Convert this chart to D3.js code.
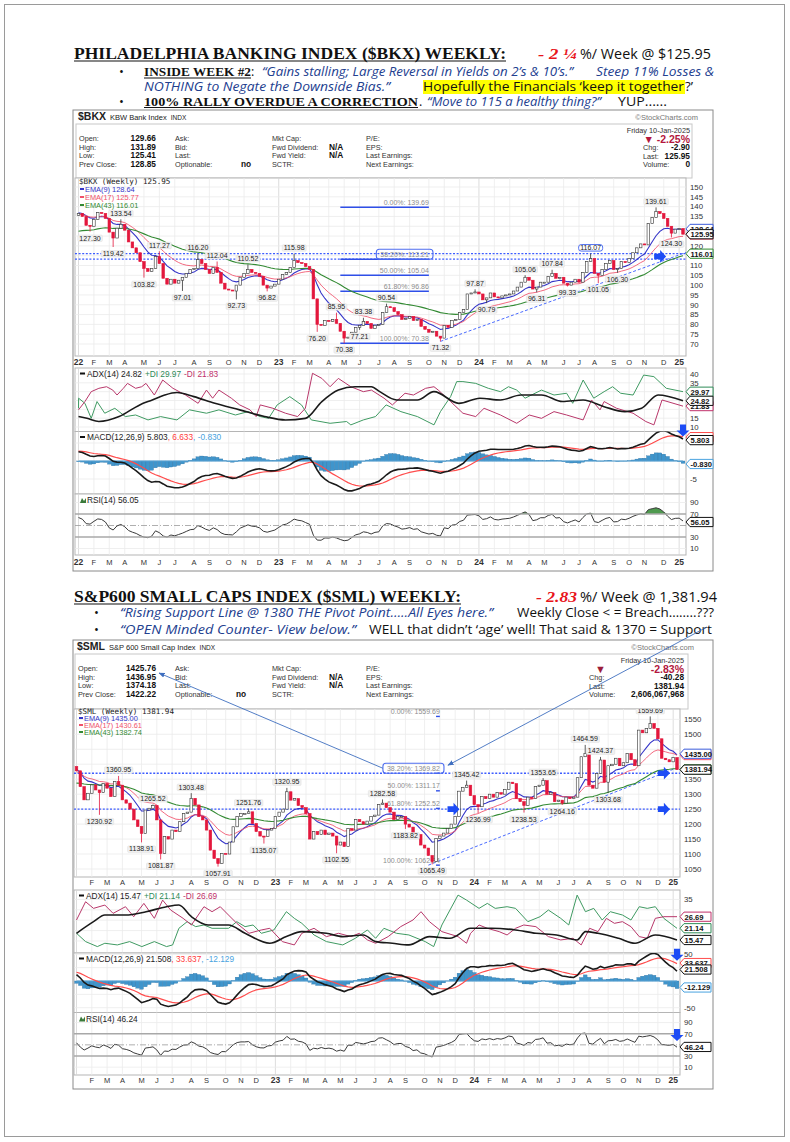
<!DOCTYPE html>
<html>
<head>
<meta charset="utf-8">
<script src="https://cdn.jsdelivr.net/npm/d3@7"></script>
<style>
  body { margin: 0; background: #fff; }
  text { font-family: "Liberation Sans", Arial, sans-serif; }
</style>
</head>
<body>
<svg id="page" width="790" height="1142"></svg>
<script>
var svg = d3.select("#page");

// ---------------- data ----------------
// weekly bars, Fri 7-Jan-2022 .. Fri 10-Jan-2025
var weeks = d3.range(158).map(function(i) { return d3.timeDay.offset(new Date(2022, 0, 7), i * 7); });

var bkxClose = [
  136.5, 135, 130.5, 130, 133.5, 137, 136.5, 134, 127, 124, 129, 131, 128, 122, 119, 116.5, 112, 108.5, 107, 108.5,
  114.5, 111, 103.5, 100.5, 103, 101, 102.5, 104, 106, 108, 108.5, 113, 111, 108, 106, 109, 106.5, 101, 98, 97.5,
  97, 100, 104, 106, 108, 106.5, 106, 104.5, 100, 98.5, 99.5, 100.5,
  103, 105.5, 106.5, 109, 112.5, 111.5, 111, 109.5, 108, 93, 80, 79.5, 82, 81.5, 82.5, 80.5, 76.5, 73,
  73.5, 76, 78.5, 79.5, 81.5, 80.5, 78, 79.5, 80, 86, 89, 88.5, 86.5, 85, 82.5, 83, 84, 82, 82.5, 79,
  77.5, 76, 76.5, 74, 73, 79.5, 78.5, 82, 82.5, 86, 87.5, 95.5, 96, 96.5,
  95.5, 92.5, 93.5, 96, 94, 93.5, 94.5, 95, 95.5, 97, 99, 101.5, 104, 102.5, 98, 99, 101.5, 101.5, 104.5, 106,
  103.5, 104, 101, 100, 101.5, 103, 101.5, 106.5, 112, 113.5, 106, 105, 108, 111, 112.5, 108, 108.5, 112, 111.5, 113.5,
  116.5, 119, 121, 120.5, 131.5, 134.5, 137.5, 136.5, 134, 130, 126.5, 128.5, 128.85, 125.95
];
var bkxFirstOpen = 135.5;
var bkxEmaSeed = [137, 136, 127];        // EMA(9), EMA(17), EMA(43) before week 0
var bkxMacdSeed = [134.6, 132, 2.8];     // EMA(12), EMA(26), signal before week 0
var bkxRsiSeed = [1.6, 0.95];            // average gain, average loss before week 0
var bkxHighs = [[11, 133.54], [21, 117.27], [31, 116.20], [36, 112.04], [44, 110.52], [56, 115.98], [67, 85.95],
  [74, 83.38], [80, 90.54], [103, 97.87], [116, 105.06], [123, 107.84], [133, 116.07], [150, 139.61]];
var bkxLows = [[3, 127.30], [9, 119.42], [17, 103.82], [27, 97.01], [41, 92.73], [49, 96.82], [62, 76.20],
  [69, 70.38], [73, 77.21], [94, 71.32], [106, 90.79], [119, 96.31], [127, 99.33], [135, 101.05], [140, 106.30], [154, 124.30]];
var bkxFib = [["0.00%", 139.69], ["38.20%", 113.21], ["50.00%", 105.04], ["61.80%", 96.86], ["100.00%", 70.38]];
var bkxFibWeeks = [68, 91];
var bkxSupport = [116.07, 113.21];
var bkxTrend = [[94, 71.32], [158, 116.8]];
var bkxArrows = [[149.5, 114.6]];
// ADX(14) panel, points as [months since Jan-2022, value]
var bkxAdx = [[0,15.9],[0.69,14.9],[1.43,13.1],[2.67,15.9],[3.91,22.5],[4.65,25.3],[5.39,28.1],[6.13,29.5],[7.12,27.2],
  [8.36,23.4],[9.84,19.7],[11.33,15.9],[12.56,14.0],[13.8,14.9],[14.79,24.4],[15.78,30.9],[16.77,32.8],[17.75,32.8],
  [18.25,30.0],[19.24,25.3],[20.47,25.3],[21.46,30.0],[22.95,23.4],[24.18,26.3],[25.42,25.3],[26.66,28.1],[27.89,28.1],
  [29.13,24.4],[30.37,25.3],[31.6,21.5],[32.84,18.7],[33.83,20.6],[34.82,28.1],[36.3,24.8]];
var bkxPlusDi = [[0,20.6],[0.2,26.3],[0.57,23.4],[0.94,14.9],[1.31,24.4],[1.81,17.8],[2.42,20.6],[3.04,15.9],[3.66,16.8],
  [4.4,14.0],[5.14,15.9],[6.13,14.0],[6.87,19.7],[7.86,17.8],[8.61,19.7],[9.59,16.8],[10.34,18.7],[11.08,15.9],[11.57,14.9],
  [12.07,22.5],[12.81,27.2],[13.55,22.5],[14.17,14.0],[15.28,12.1],[16.27,13.1],[16.52,11.2],[17.26,14.0],[18.0,15.9],
  [18.62,22.5],[19.49,18.7],[20.47,15.9],[21.46,11.2],[21.84,18.7],[22.45,27.2],[22.82,35.7],[23.19,35.7],[23.94,34.7],
  [24.68,31.9],[25.42,30.0],[25.92,32.8],[26.41,30.9],[26.9,26.3],[27.89,30.9],[28.63,28.1],[29.38,29.1],[29.75,23.4],
  [30.37,36.6],[30.99,26.3],[31.6,30.0],[32.1,32.8],[32.59,29.1],[33.33,28.1],[33.95,39.4],[34.57,38.5],[35.31,31.9],[36.3,30.0]];
var bkxMinusDi = [[0,19.7],[0.57,24.4],[0.94,30.0],[1.43,31.9],[1.93,32.8],[2.3,30.9],[2.55,28.1],[2.92,31.9],[3.17,34.7],
  [3.66,31.9],[4.03,32.8],[4.28,34.7],[4.77,28.1],[5.27,36.6],[5.89,31.9],[6.63,28.1],[7.37,23.4],[7.86,30.9],[8.23,26.3],
  [8.61,30.9],[9.35,26.3],[9.84,22.5],[10.46,19.7],[10.83,15.9],[11.08,22.5],[11.82,20.6],[12.56,17.8],[13.3,15.9],
  [13.8,20.6],[14.24,40.4],[14.79,37.5],[15.28,32.8],[15.78,37.5],[16.52,32.8],[17.26,30.0],[17.75,30.9],[18.5,26.3],
  [18.99,22.5],[19.73,29.1],[20.23,28.1],[20.97,31.9],[21.46,32.8],[21.71,30.9],[22.45,24.4],[23.19,17.8],[23.94,15.9],
  [24.43,20.6],[25.42,16.8],[26.41,12.1],[27.15,16.8],[27.89,14.9],[28.63,18.7],[29.38,16.8],[30.37,14.0],[30.86,25.3],
  [31.36,19.7],[31.6,24.4],[32.34,20.6],[33.33,17.8],[34.08,13.1],[34.57,11.2],[35.06,25.3],[36.3,21.8]];

var smlClose = [
  1378, 1325, 1281, 1303, 1331, 1314, 1305, 1336, 1320, 1292, 1342, 1330, 1281, 1270, 1250, 1214, 1192, 1169, 1247, 1253,
  1262, 1214, 1102, 1158, 1150, 1180, 1175, 1208, 1236, 1240, 1286, 1264, 1225, 1214, 1180, 1113, 1085, 1068, 1102, 1100,
  1140, 1191, 1225, 1236, 1236, 1241, 1202, 1175, 1160, 1158, 1180, 1185,
  1225, 1240, 1250, 1308, 1280, 1285, 1262, 1255, 1235, 1150, 1175, 1165, 1180, 1165, 1170, 1160, 1130, 1140,
  1125, 1185, 1180, 1215, 1208, 1200, 1210, 1225, 1230, 1265, 1270, 1255, 1240, 1215, 1225, 1225, 1200, 1190, 1160, 1165,
  1130, 1120, 1095, 1075, 1152, 1160, 1170, 1185, 1200, 1225, 1310, 1322, 1330, 1295,
  1265, 1258, 1292, 1285, 1300, 1290, 1305, 1300, 1315, 1340, 1335, 1285, 1275, 1262, 1290, 1285, 1325, 1330, 1345, 1300,
  1305, 1275, 1280, 1270, 1290, 1285, 1290, 1355, 1425, 1436, 1330, 1320, 1369, 1414, 1340, 1395, 1400, 1420, 1395, 1405,
  1436, 1415, 1395, 1514, 1505, 1520, 1536, 1520, 1485, 1420, 1415, 1408, 1422.22, 1381.94
];
var smlFirstOpen = 1392;
var smlEmaSeed = [1385, 1375, 1335];
var smlMacdSeed = [1395, 1380.6, 17.4];
var smlRsiSeed = [14, 11];
var smlHighs = [[11, 1360.95], [20, 1265.52], [30, 1303.48], [45, 1251.76], [55, 1320.95], [80, 1282.58], [102, 1345.42],
  [122, 1353.65], [133, 1464.59], [137, 1424.37], [150, 1559.69]];
var smlLows = [[6, 1230.92], [17, 1138.91], [22, 1081.87], [37, 1057.91], [49, 1135.07], [68, 1102.55], [86, 1183.82],
  [93, 1065.49], [105, 1236.99], [117, 1238.53], [127, 1264.16], [139, 1303.68]];
var smlFib = [["0.00%", 1559.69], ["38.20%", 1369.82], ["50.00%", 1311.17], ["61.80%", 1252.52], ["100.00%", 1062.84]];
var smlFibWeeks = [94, 95];
var smlSupport = [1369.82, 1250];
var smlTrend = [[92, 1062.84], [157, 1388]];
var smlArrows = [[97, 1250], [152, 1250], [152, 1370]];
var smlAdx = [[0,18.7],[1.22,24.3],[1.96,27.5],[3.19,27.5],[4.43,29.1],[5.66,31.5],[6.4,32.3],[7.14,26.7],[8.13,22.7],
  [9.36,22.7],[10.35,18.7],[11.83,13.9],[12.81,17.1],[13.8,19.5],[15.28,18.7],[16.27,17.1],[17.5,17.9],[18.24,14.7],
  [19.23,13.9],[20.21,13.1],[21.45,17.1],[22.68,16.3],[23.91,21.1],[25.15,21.1],[26.63,20.3],[27.86,18.7],[29.09,17.9],
  [30.33,15.5],[30.82,19.5],[31.56,18.7],[32.8,16.3],[33.78,13.9],[35.01,17.9],[36.3,15.5]];
var smlPlusDi = [[0,18.7],[0.73,14.7],[1.47,12.3],[1.96,13.9],[2.7,13.1],[3.44,14.7],[4.18,12.3],[4.92,14.7],[5.66,12.3],
  [6.03,13.1],[6.4,21.1],[6.89,24.3],[7.39,21.9],[7.88,22.7],[8.37,21.1],[9.36,21.1],[9.85,24.3],[10.35,21.9],[10.84,22.7],
  [11.33,18.7],[12.07,20.3],[12.81,29.1],[13.31,25.9],[13.8,23.5],[14.54,17.9],[15.28,14.7],[16.27,13.1],[17.01,16.3],
  [17.75,20.3],[18.24,16.3],[18.73,21.1],[19.47,18.7],[20.21,17.9],[21.2,14.7],[21.7,12.3],[22.19,22.7],[23.17,37.1],
  [23.67,34.7],[24.41,30.7],[24.9,33.1],[25.39,30.7],[26.13,31.5],[26.63,30.7],[27.37,24.3],[28.11,26.7],[28.6,29.9],
  [29.34,25.9],[29.83,22.7],[30.33,37.1],[30.82,29.1],[31.31,30.7],[31.81,25.1],[32.3,29.1],[33.04,27.5],[33.54,25.1],
  [34.03,31.5],[34.52,30.7],[35.01,31.5],[35.51,25.9],[36.3,21.1]];
var smlMinusDi = [[0,25.1],[0.73,33.9],[1.22,30.7],[1.96,32.3],[2.45,28.3],[3.19,31.5],[3.69,26.7],[4.3,33.1],[4.92,25.9],
  [5.42,34.7],[5.91,29.9],[6.65,25.9],[7.14,22.7],[7.88,31.5],[8.37,29.1],[8.87,31.5],[9.36,27.5],[9.85,23.5],[10.59,18.7],
  [11.33,20.3],[11.83,21.1],[12.57,14.7],[13.31,13.1],[13.8,18.7],[14.54,21.1],[15.28,17.1],[16.02,18.7],[16.76,17.1],
  [17.25,18.7],[17.75,15.5],[18.24,13.9],[18.98,17.1],[19.72,21.9],[20.46,25.1],[20.95,29.1],[21.45,24.3],[22.19,19.5],
  [23.17,17.1],[23.67,13.9],[23.91,18.7],[24.41,22.7],[24.9,21.1],[25.64,19.5],[26.13,17.9],[26.63,21.1],[27.12,22.7],
  [27.86,21.9],[28.6,17.1],[29.34,15.5],[30.08,16.3],[30.57,13.1],[31.07,21.1],[31.56,19.5],[32.06,25.9],[32.55,23.5],
  [33.04,24.3],[33.54,21.9],[34.03,17.1],[34.52,16.3],[35.01,25.9],[35.51,26.7],[36.3,26.7]];

// ---------------- helpers ----------------
var RED = "#e3173c", BLUE = "#2f4fe8", ARROW = "#1d4cf5";

function ema(values, n, seed) {
  var k = 2 / (n + 1), prev = seed;
  return values.map(function(v) { prev = v * k + prev * (1 - k); return prev; });
}
function rsiCalc(values, first, seed) {
  var g = seed[0], l = seed[1], last = first;
  return values.map(function(v) {
    var ch = v - last; last = v;
    g = (g * 13 + Math.max(ch, 0)) / 14;
    l = (l * 13 + Math.max(-ch, 0)) / 14;
    return 100 - 100 / (1 + g / l);
  });
}
function monthDate(m) {
  var f = Math.floor(m);
  var a = d3.timeMonth.offset(new Date(2022, 0, 1), f), b = d3.timeMonth.offset(a, 1);
  return new Date(+a + (m - f) * (b - a));
}

var defs = svg.append("defs");
defs.append("marker").attr("id", "ah").attr("viewBox", "0 0 10 10").attr("refX", 9).attr("refY", 5)
  .attr("markerWidth", 7).attr("markerHeight", 7).attr("orient", "auto")
  .append("path").attr("d", "M0,1L10,5L0,9z").attr("fill", "#3f6fc0");

// page frame
svg.append("rect").attr("x", 4.5).attr("y", 4.5).attr("width", 780).attr("height", 1132)
  .attr("fill", "none").attr("stroke", "#9a9a9a");

// ---------------- commentary text ----------------
function seg(x, y, w, str, st) {
  var t = svg.append("text").attr("x", x).attr("y", y).text(str)
    .attr("font-size", st.size).attr("fill", st.fill || "#111");
  if (st.family) t.style("font-family", st.family);
  if (st.weight) t.attr("font-weight", st.weight);
  if (st.italic) t.attr("font-style", "italic");
  if (w) t.attr("textLength", w).attr("lengthAdjust", "spacingAndGlyphs");
  if (st.underline) svg.append("line").attr("x1", x).attr("x2", x + w).attr("y1", y + 2).attr("y2", y + 2)
    .attr("stroke", "#111").attr("stroke-width", 1.1);
  return t;
}
var serif = "'Liberation Serif', 'DejaVu Serif', serif", sans = "'Open Sans', 'Noto Sans', sans-serif";
var titleS = { family: serif, weight: "bold", size: 17, underline: true };
var redS = { family: serif, weight: "bold", italic: true, size: 15, fill: "#e8141b" };
var plainS = { family: sans, size: 14 };
var capsS = { family: serif, weight: "bold", size: 13, underline: true };
var navyS = { family: sans, italic: true, size: 12.5, fill: "#22408f" };
var bodyS = { family: sans, size: 12.5 };
var dotS = { family: sans, size: 13 };

seg(74, 59, 432, "PHILADELPHIA BANKING INDEX ($BKX) WEEKLY:", titleS);
seg(538, 59, 39, "- 2 \u00bc", redS);
seg(580, 59, 131, "%/ Week @ $125.95", plainS);
seg(119, 76, 0, "\u2022", dotS);
seg(144, 76, 107, "INSIDE WEEK #2", capsS);
seg(251, 76, 0, ":", bodyS);
seg(262, 76, 311, "\u201cGains stalling; Large Reversal in Yields on 2\u2019s & 10\u2019s.\u201d", navyS);
seg(596, 76, 118, "Steep 11% Losses &", navyS);
seg(144, 90.5, 246, "NOTHING to Negate the Downside Bias.\u201d", navyS);
svg.append("rect").attr("x", 423).attr("y", 80).attr("width", 262).attr("height", 14).attr("fill", "#ffff00");
seg(423, 90.5, 261, "Hopefully the Financials \u2018keep it together", bodyS);
seg(685, 90.5, 8, "?\u2019", bodyS);
seg(119, 105.5, 0, "\u2022", dotS);
seg(144, 105.5, 274, "100% RALLY OVERDUE A CORRECTION", capsS);
seg(419, 105.5, 0, ".", bodyS);
seg(427, 105.5, 174, "\u201cMove to 115 a healthy thing?\u201d", navyS);
seg(618, 105.5, 49, "YUP......", bodyS);

seg(74, 602, 387, "S&P600 SMALL CAPS INDEX ($SML) WEEKLY:", titleS);
seg(536, 602, 41, "- 2.83", redS);
seg(580, 602, 137, "%/ Week @ 1,381.94", plainS);
seg(94, 617, 0, "\u2022", dotS);
seg(120, 617, 373, "\u201cRising Support Line @ 1380 THE Pivot Point\u2026..All Eyes here.\u201d", navyS);
seg(517, 617, 197, "Weekly Close < = Breach\u2026\u2026..???", bodyS);
seg(94, 634, 0, "\u2022", dotS);
seg(120, 634, 236, "\u201cOPEN Minded Counter- View below.\u201d", navyS);
seg(369, 634, 343, "WELL that didn\u2019t \u2018age\u2019 well! That said & 1370 = Support", bodyS);

// ---------------- chart drawing ----------------
function drawChart(L, D) {
  var g = svg.append("g");
  var id = D.id;
  var x = d3.scaleLinear().domain([0, weeks.length - 1]).range([L.x0, L.x1]);
  var xt = d3.scaleTime().domain([weeks[0], weeks[weeks.length - 1]]).range([L.x0, L.x1]);
  var xm = function(m) { return Math.min(L.x1, Math.max(L.x0, xt(monthDate(m)))); };

  g.append("rect").attr("x", L.box[0]).attr("y", L.box[1]).attr("width", L.box[2] - L.box[0])
    .attr("height", L.box[3] - L.box[1]).attr("fill", "#fff").attr("stroke", "#8a8a8a");

  // header + info box
  var h = g.append("text").attr("x", L.plotL + 3).attr("y", L.header).attr("font-size", 7.5).attr("fill", "#222");
  h.append("tspan").attr("font-weight", "bold").attr("font-size", 10.5).text(D.symbol);
  h.append("tspan").attr("dx", 4).text(D.name);
  h.append("tspan").attr("dx", 4).attr("font-size", 6.5).text("INDX");
  g.append("text").attr("x", L.infoR + 6).attr("y", L.header).attr("text-anchor", "end")
    .attr("font-size", 7.5).attr("fill", "#777").text("\u00a9StockCharts.com");
  g.append("rect").attr("x", L.infoL).attr("y", L.info[0]).attr("width", L.infoR - L.infoL)
    .attr("height", L.info[1] - L.info[0]).attr("fill", "#fff").attr("stroke", "#c8c8c8");

  var rowY = [17, 25.5, 34, 42.5].map(function(d) { return L.info[0] + d; });
  var lab = function(xx, yy, s, anchor) {
    return g.append("text").attr("x", xx).attr("y", yy).attr("font-size", 7.3).attr("fill", "#333")
      .attr("text-anchor", anchor || "start").text(s);
  };
  var val = function(xx, yy, s, anchor) {
    return g.append("text").attr("x", xx).attr("y", yy).attr("font-size", 8.3).attr("font-weight", "bold")
      .attr("fill", "#111").attr("text-anchor", anchor || "start").text(s);
  };
  ["Open:", "High:", "Low:", "Prev Close:"].forEach(function(s, i) {
    lab(L.plotL + 4, rowY[i], s); val(156, rowY[i], D.ohlc[i], "end");
  });
  ["Ask:", "Bid:", "Last:", "Optionable:"].forEach(function(s, i) { lab(175, rowY[i], s); });
  val(L.noX, rowY[3], "no");
  ["Mkt Cap:", "Fwd Dividend:", "Fwd Yield:", "SCTR:"].forEach(function(s, i) { lab(272, rowY[i], s); });
  val(329, rowY[1], "N/A"); val(329, rowY[2], "N/A");
  ["P/E:", "EPS:", "Last Earnings:", "Next Earnings:"].forEach(function(s, i) { lab(366, rowY[i], s); });
  lab(L.rightX, L.info[0] + 9, "Friday  10-Jan-2025", "end");
  if (L.triX) {
    g.append("text").attr("x", L.triX).attr("y", rowY[0] + 1.5).attr("font-size", 11).attr("fill", "#9c1d3a").text("\u25bc");
    g.append("text").attr("x", L.rightX).attr("y", rowY[0] + 1.5).attr("text-anchor", "end").attr("font-size", 10.5)
      .attr("font-weight", "bold").attr("fill", "#b3173d").text(D.pct);
  } else {
    g.append("text").attr("x", L.rightX).attr("y", rowY[0] + 1.5).attr("text-anchor", "end").attr("font-size", 10.5)
      .attr("font-weight", "bold").attr("fill", "#b3173d").text("\u25bc " + D.pct);
  }
  [["Chg:", D.chg], ["Last:", D.last], ["Volume:", D.volume]].forEach(function(r, i) {
    lab(L.rightLblX, rowY[i + 1] + 0.5, r[0]); val(L.rightX, rowY[i + 1] + 0.5, r[1], "end");
  });

  // month ticks at the first bar of each month
  var months = weeks.map(function(d, i) { return { d: d, i: i }; }).filter(function(o) {
    return o.i === 0 || o.d.getMonth() !== weeks[o.i - 1].getMonth();
  });
  var mLabel = function(o) { return o.d.getMonth() === 0 ? String(o.d.getFullYear()).slice(2) : "JFMAMJJASOND"[o.d.getMonth()]; };
  [L.monthTop, L.monthBottom].forEach(function(yy) {
    g.selectAll(null).data(months.filter(function(o) { return !(L.skipFirst && o.i === 0); })).enter().append("text")
      .attr("x", function(o) { return x(o.i); }).attr("y", yy).attr("text-anchor", "middle")
      .attr("font-size", function(o) { return o.d.getMonth() === 0 ? 8.5 : 7.5; })
      .attr("font-weight", function(o) { return o.d.getMonth() === 0 ? "bold" : "normal"; })
      .attr("fill", "#333").text(mLabel);
  });

  function tagClear(key, scale) {
    var ys = D.tags.filter(function(t) { return t[0] === key; }).map(function(t) { return scale(t[1]); });
    return function(v) { var p = scale(v); return ys.every(function(q) { return Math.abs(q - p) > 7.5; }); };
  }

  function panel(name, yr, scale, ticks) {
    var pg = g.append("g");
    pg.append("rect").attr("x", L.plotL).attr("y", yr[0]).attr("width", L.plotR - L.plotL)
      .attr("height", yr[1] - yr[0]).attr("fill", "#fff").attr("stroke", "#b5b5b5");
    pg.selectAll(null).data(months).enter().append("line")
      .attr("x1", function(o) { return x(o.i); }).attr("x2", function(o) { return x(o.i); })
      .attr("y1", yr[0]).attr("y2", yr[1])
      .attr("stroke", function(o) { return o.d.getMonth() === 0 ? "#d4d4d4" : "#ebebeb"; }).attr("stroke-width", 0.8);
    var inside = ticks.filter(function(t) { var p = scale(t); return p > yr[0] + 1 && p < yr[1] - 1; });
    pg.selectAll(null).data(inside).enter().append("line")
      .attr("x1", L.plotL).attr("x2", L.plotR).attr("y1", scale).attr("y2", scale)
      .attr("stroke", "#ebebeb").attr("stroke-width", 0.8);
    pg.selectAll(null).data(inside.filter(tagClear(name, scale))).enter().append("text")
      .attr("x", L.axisX).attr("y", function(t) { return scale(t) + 2.8; })
      .attr("font-size", 7.8).attr("fill", "#333").text(function(t) { return t; });
    defs.append("clipPath").attr("id", id + name).append("rect")
      .attr("x", L.plotL).attr("y", yr[0]).attr("width", L.plotR - L.plotL).attr("height", yr[1] - yr[0]);
    var inner = pg.append("g").attr("clip-path", "url(#" + id + name + ")");
    return { g: pg, inner: inner };
  }

  // value tag on the right axis; hidden tags (covered by the next one) keep only their outline
  function tag(value, txt, color, scale, hidden) {
    var yy = scale(value), x0 = L.plotR, w = L.tagW;
    g.append("path").attr("d", "M" + x0 + "," + yy + "L" + (x0 + 4) + "," + (yy - 4.6) + "L" + (x0 + w) + "," + (yy - 4.6) +
      "L" + (x0 + w) + "," + (yy + 4.6) + "L" + (x0 + 4) + "," + (yy + 4.6) + "Z")
      .attr("fill", "#fff").attr("stroke", color).attr("stroke-width", 1);
    if (!hidden) g.append("text").attr("x", x0 + 4.5).attr("y", yy + 2.8).attr("font-size", 7.6).attr("font-weight", "bold")
      .attr("fill", "#111").text(txt);
  }

  function labelBox(parent, xx, yy, txt, stroke) {
    var t = parent.append("text").attr("x", xx).attr("y", yy).attr("text-anchor", "middle")
      .attr("font-size", 7).attr("fill", "#222").text(txt);
    var b = t.node().getBBox();
    parent.insert("rect", function() { return t.node(); })
      .attr("x", b.x - 1.5).attr("y", b.y + 0.5).attr("width", b.width + 3).attr("height", b.height - 0.5)
      .attr("rx", stroke ? 2.5 : 1).attr("fill", stroke ? "#fff" : "#f1f1f1")
      .attr("stroke", stroke || "#dddddd").attr("stroke-width", stroke ? 1 : 0.5);
    return t;
  }

  // ---- price panel ----
  var py = d3.scaleLinear().domain(L.priceDomain).range(L.priceRange);
  var P = panel("p", L.price, py, L.priceTicks);
  var opens = [D.firstOpen].concat(D.close.slice(0, -1));
  var hi = new Map(D.highs), lo = new Map(D.lows);

  D.support.forEach(function(v) {
    P.inner.append("line").attr("x1", L.plotL).attr("x2", L.plotR).attr("y1", py(v)).attr("y2", py(v))
      .attr("stroke", "#3d5cff").attr("stroke-width", 1.3).attr("stroke-dasharray", "2,1.6");
  });
  P.inner.append("line").attr("x1", x(D.trend[0][0])).attr("y1", py(D.trend[0][1]))
    .attr("x2", x(D.trend[1][0])).attr("y2", py(D.trend[1][1]))
    .attr("stroke", "#4a6bff").attr("stroke-width", 1).attr("stroke-dasharray", "3,2");

  var fibBox = null;
  D.fib.forEach(function(f) {
    var yy = py(f[1]);
    P.inner.append("line").attr("x1", x(D.fibWeeks[0])).attr("x2", x(D.fibWeeks[1])).attr("y1", yy).attr("y2", yy)
      .attr("stroke", BLUE).attr("stroke-width", 1.4);
    var t = P.inner.append("text").attr("x", x(D.fibWeeks[1])).attr("y", yy - 2.5).attr("text-anchor", "end")
      .attr("font-size", 7).attr("fill", "#8d8d8d").text(f[0] + ": " + d3.format(".2f")(f[1]));
    if (f[0] === "38.20%") {
      var b = t.node().getBBox();
      fibBox = { x: b.x - 4, y: b.y - 1.5, w: b.width + 8, h: b.height + 3 };
      P.inner.append("rect").attr("x", fibBox.x).attr("y", fibBox.y).attr("width", fibBox.w).attr("height", fibBox.h)
        .attr("rx", 3).attr("fill", "none").attr("stroke", "#4f6ef0").attr("stroke-width", 1.1);
    }
  });

  var emaColors = ["#3535c8", "#f0506a", "#338a33"];
  [9, 17, 43].forEach(function(n, k) {
    var e = ema(D.close, n, D.emaSeed[k]);
    P.inner.append("path").datum(e)
      .attr("d", d3.line().x(function(d, i) { return x(i); }).y(function(d) { return py(d); }))
      .attr("fill", "none").attr("stroke", emaColors[k]).attr("stroke-width", k === 1 ? 1 : 1.1)
      .attr("stroke-opacity", k === 1 ? 0.85 : 1);
  });

  P.inner.selectAll(null).data(D.close).enter().append("line")
    .attr("x1", function(d, i) { return x(i); }).attr("x2", function(d, i) { return x(i); })
    .attr("y1", function(d, i) { return py(hi.has(i) ? hi.get(i) : Math.max(d, opens[i])); })
    .attr("y2", function(d, i) { return py(lo.has(i) ? lo.get(i) : Math.min(d, opens[i])); })
    .attr("stroke", function(d, i) { return d < opens[i] ? RED : "#333"; }).attr("stroke-width", 0.8);
  P.inner.selectAll(null).data(D.close).enter().append("rect")
    .attr("x", function(d, i) { return x(i) - 1.3; }).attr("width", 2.6)
    .attr("y", function(d, i) { return py(Math.max(d, opens[i])); })
    .attr("height", function(d, i) { return Math.max(1, Math.abs(py(d) - py(opens[i]))); })
    .attr("fill", function(d, i) { return d < opens[i] ? RED : "#fff"; })
    .attr("stroke", function(d, i) { return d < opens[i] ? RED : "#333"; }).attr("stroke-width", 0.6);

  D.highs.forEach(function(p) {
    labelBox(P.inner, x(p[0]), py(p[1]) - 3.5, d3.format(".2f")(p[1]), p[0] === D.boxedHigh ? "#4f6ef0" : null);
  });
  D.lows.forEach(function(p) { labelBox(P.inner, x(p[0]), py(p[1]) + 9, d3.format(".2f")(p[1])); });

  D.arrows.forEach(function(a) {
    var ax = x(a[0]), ay = py(a[1]);
    P.inner.append("path").attr("d", "M" + ax + "," + (ay - 2.8) + "h6v-3.6l6,6.4l-6,6.4v-3.6h-6z").attr("fill", ARROW);
  });

  // legend
  var lg = P.g.append("g");
  lg.append("text").attr("x", L.plotL + 4).attr("y", L.legend[0]).attr("font-size", 7.6)
    .style("font-family", "'DejaVu Sans Mono', 'Liberation Mono', monospace").attr("fill", "#222").text(D.legend[0]);
  [1, 2, 3].forEach(function(k) {
    var yy = L.legend[0] + k * L.legend[1];
    lg.append("line").attr("x1", L.plotL + 5).attr("x2", L.plotL + 9).attr("y1", yy - 2.5).attr("y2", yy - 2.5)
      .attr("stroke", emaColors[k - 1]).attr("stroke-width", 2);
    lg.append("text").attr("x", L.plotL + 10).attr("y", yy).attr("font-size", 7.4).attr("fill", emaColors[k - 1]).text(D.legend[k]);
  });

  // ---- ADX ----
  var ay = d3.scaleLinear().domain(L.adxDomain).range(L.adxRange);
  var A = panel("a", L.adx, ay, L.adxTicks);
  var mline = d3.line().x(function(d) { return xm(d[0]); }).y(function(d) { return ay(d[1]); });
  A.inner.append("path").datum(D.plusDi).attr("d", mline).attr("fill", "none").attr("stroke", "#3f9a62").attr("stroke-width", 1);
  A.inner.append("path").datum(D.minusDi).attr("d", mline).attr("fill", "none").attr("stroke", "#b8376a").attr("stroke-width", 1);
  A.inner.append("path").datum(D.adx).attr("d", mline.curve(d3.curveMonotoneX)).attr("fill", "none")
    .attr("stroke", "#1a1a1a").attr("stroke-width", 1.6);
  var at = A.g.append("text").attr("x", L.plotL + 12).attr("y", L.adx[0] + 8.5).attr("font-size", 8.3);
  A.g.append("line").attr("x1", L.plotL + 5).attr("x2", L.plotL + 10).attr("y1", L.adx[0] + 5.5).attr("y2", L.adx[0] + 5.5)
    .attr("stroke", "#111").attr("stroke-width", 2);
  at.append("tspan").attr("fill", "#222").text(D.adxLabel[0]);
  at.append("tspan").attr("fill", "#2e8b57").attr("dx", 3).text(D.adxLabel[1]);
  at.append("tspan").attr("fill", "#c0306a").attr("dx", 3).text(D.adxLabel[2]);

  // ---- MACD ----
  var e12 = ema(D.close, 12, D.macdSeed[0]), e26 = ema(D.close, 26, D.macdSeed[1]);
  var macd = e12.map(function(v, i) { return v - e26[i]; });
  var signal = ema(macd, 9, D.macdSeed[2]);
  var hist = macd.map(function(v, i) { return v - signal[i]; });
  var my = d3.scaleLinear().domain(L.macdDomain).range(L.macdRange);
  var M = panel("m", L.macd, my, L.macdTicks);
  M.inner.selectAll(null).data(hist).enter().append("rect")
    .attr("x", function(d, i) { return x(i) - 1.9; }).attr("width", 3.8)
    .attr("y", function(d) { return Math.min(my(d), my(0)); })
    .attr("height", function(d) { return Math.abs(my(d) - my(0)); })
    .attr("fill", "#3f95cc").attr("stroke", "#2b6f9f").attr("stroke-width", 0.3);
  M.inner.append("line").attr("x1", L.x0).attr("x2", L.x1).attr("y1", my(0)).attr("y2", my(0))
    .attr("stroke", "#5aa6d8").attr("stroke-width", 1);
  var wl = d3.line().x(function(d, i) { return x(i); });
  M.inner.append("path").datum(signal).attr("d", wl.y(function(d) { return my(d); }))
    .attr("fill", "none").attr("stroke", "#ff4d4d").attr("stroke-width", 1.2);
  M.inner.append("path").datum(macd).attr("d", wl.y(function(d) { return my(d); }))
    .attr("fill", "none").attr("stroke", "#1a1a1a").attr("stroke-width", 1.6);
  var mt = M.g.append("text").attr("x", L.plotL + 12).attr("y", L.macd[0] + 8.5).attr("font-size", 8.3);
  M.g.append("line").attr("x1", L.plotL + 5).attr("x2", L.plotL + 10).attr("y1", L.macd[0] + 5.5).attr("y2", L.macd[0] + 5.5)
    .attr("stroke", "#111").attr("stroke-width", 2);
  mt.append("tspan").attr("fill", "#222").text(D.macdLabel[0]);
  mt.append("tspan").attr("fill", "#ff3b3b").text(D.macdLabel[1]);
  mt.append("tspan").attr("fill", "#4aa3e0").text(D.macdLabel[2]);

  // ---- RSI ----
  var rsi = rsiCalc(D.close, D.firstOpen, D.rsiSeed);
  var ry = d3.scaleLinear().domain(L.rsiDomain).range(L.rsiRange);
  var R = panel("r", L.rsi, ry, [10, 90]);
  var rClear = tagClear("r", ry);
  [30, 70].forEach(function(v) {
    R.g.append("line").attr("x1", L.plotL).attr("x2", L.plotR).attr("y1", ry(v)).attr("y2", ry(v))
      .attr("stroke", "#a8a8a8").attr("stroke-width", 1.6);
    if (rClear(v)) R.g.append("text").attr("x", L.axisX).attr("y", ry(v) + 2.8).attr("font-size", 7.8).attr("fill", "#333").text(v);
  });
  R.g.append("line").attr("x1", L.plotL).attr("x2", L.plotR).attr("y1", ry(50)).attr("y2", ry(50))
    .attr("stroke", "#9a9a9a").attr("stroke-width", 0.8).attr("stroke-dasharray", "6,2,1,2");
  R.inner.append("path").datum(rsi)
    .attr("d", d3.area().x(function(d, i) { return x(i); }).y0(ry(70)).y1(function(d) { return ry(Math.max(d, 70)); }))
    .attr("fill", "#4f9a4f");
  R.inner.append("path").datum(rsi).attr("d", d3.line().x(function(d, i) { return x(i); }).y(function(d) { return ry(d); }))
    .attr("fill", "none").attr("stroke", "#3a3a3a").attr("stroke-width", 1);
  R.g.append("path").attr("d", "M" + (L.plotL + 5) + "," + (L.rsi[0] + 9) + "l2,-5l2,3l2,-3v5z").attr("fill", "#3a7a3a");
  R.g.append("text").attr("x", L.plotL + 12).attr("y", L.rsi[0] + 9).attr("font-size", 8.3).attr("fill", "#222").text(D.rsiLabel);

  // down arrows on indicators
  D.downArrows.forEach(function(a) {
    var sc = a[0] === "m" ? my : ry, ax = x(a[1]), ay2 = sc(a[2]);
    g.append("path").attr("d", "M" + (ax - 3) + "," + (ay2 - 12) + "h6v6h3.5l-6.5,6l-6.5,-6h3.5z").attr("fill", ARROW);
  });

  // right-edge value tags
  D.tags.forEach(function(t) {
    var sc = { p: py, a: ay, m: my, r: ry }[t[0]];
    tag(t[1], t[2], t[3], sc, t[4]);
  });

  return { fibBox: fibBox };
}

var bkxLayout = {
  box: [73, 110, 713, 571], header: 120, info: [124, 178], infoL: 76, infoR: 692,
  x0: 78.5, x1: 683, plotL: 75, plotR: 686, axisX: 690, tagW: 27,
  price: [178, 356], adx: [368, 431.5], macd: [431.5, 494], rsi: [494, 555],
  monthTop: 365, monthBottom: 565, skipFirst: false, legend: [183.5, 8],
  noX: 241, rightX: 690, rightLblX: 643, triX: null,
  priceDomain: [70, 150], priceRange: [344, 187], priceTicks: d3.range(70, 151, 5),
  adxDomain: [10, 40], adxRange: [427, 374], adxTicks: [10, 15, 20, 25, 30, 35, 40],
  macdDomain: [-5, 0], macdRange: [479, 461], macdTicks: [-5, 0, 5],
  rsiDomain: [30, 70], rsiRange: [537, 514]
};
var smlLayout = {
  box: [73, 640, 713, 1089], header: 650, info: [654, 709], infoL: 75, infoR: 688,
  x0: 76.5, x1: 677, plotL: 74, plotR: 680, axisX: 684, tagW: 31,
  price: [709, 877], adx: [890, 953], macd: [953, 1012.5], rsi: [1012.5, 1075],
  monthTop: 884.5, monthBottom: 1082.5, skipFirst: true, legend: [713.5, 7],
  noX: 236, rightX: 684, rightLblX: 589, triX: 595,
  priceDomain: [1050, 1500], priceRange: [869, 734.3], priceTicks: d3.range(1050, 1551, 50),
  adxDomain: [15.47, 26.69], adxRange: [940, 916.7], adxTicks: [15, 20, 25, 30, 35],
  macdDomain: [-50, 0], macdRange: [1007.7, 981], macdTicks: [-50, -25, 0, 25, 50],
  rsiDomain: [30, 70], rsiRange: [1056, 1033.7]
};

drawChart(bkxLayout, {
  id: "bkx", symbol: "$BKX", name: "KBW Bank Index",
  ohlc: ["129.66", "131.89", "125.41", "128.85"], pct: "-2.25%", chg: "-2.90", last: "125.95", volume: "0",
  close: bkxClose, firstOpen: bkxFirstOpen, emaSeed: bkxEmaSeed, macdSeed: bkxMacdSeed, rsiSeed: bkxRsiSeed,
  highs: bkxHighs, lows: bkxLows, boxedHigh: 133, fib: bkxFib, fibWeeks: bkxFibWeeks, support: bkxSupport,
  trend: bkxTrend, arrows: bkxArrows, adx: bkxAdx, plusDi: bkxPlusDi, minusDi: bkxMinusDi,
  legend: ["$BKX (Weekly) 125.95", "EMA(9) 128.64", "EMA(17) 125.77", "EMA(43) 116.01"],
  adxLabel: ["ADX(14) 24.82", "+DI 29.97", "-DI 21.83"],
  macdLabel: ["MACD(12,26,9) 5.803", ", 6.633", ", -0.830"], rsiLabel: "RSI(14) 56.05",
  downArrows: [["m", 157, 6.8]],
  tags: [["p", 125.77, "125.77", "#f0506a", true], ["p", 128.64, "128.64", "#3b5bdb"], ["p", 125.95, "125.95", "#111"],
    ["p", 116.01, "116.01", "#2e8b2e"],
    ["a", 21.83, "21.83", "#c0306a"], ["a", 29.97, "29.97", "#2e8b57"], ["a", 24.82, "24.82", "#111"],
    ["m", 6.633, "6.633", "#ff4d4d", true], ["m", 5.803, "5.803", "#111"], ["m", -0.83, "-0.830", "#4aa3e0"],
    ["r", 56.05, "56.05", "#111"]]
});

var sml = drawChart(smlLayout, {
  id: "sml", symbol: "$SML", name: "S&P 600 Small Cap Index",
  ohlc: ["1425.76", "1436.95", "1374.18", "1422.22"], pct: "-2.83%", chg: "-40.28", last: "1381.94", volume: "2,606,067,968",
  close: smlClose, firstOpen: smlFirstOpen, emaSeed: smlEmaSeed, macdSeed: smlMacdSeed, rsiSeed: smlRsiSeed,
  highs: smlHighs, lows: smlLows, boxedHigh: -1, fib: smlFib, fibWeeks: smlFibWeeks, support: smlSupport,
  trend: smlTrend, arrows: smlArrows, adx: smlAdx, plusDi: smlPlusDi, minusDi: smlMinusDi,
  legend: ["$SML (Weekly) 1381.94", "EMA(9) 1435.00", "EMA(17) 1430.61", "EMA(43) 1382.74"],
  adxLabel: ["ADX(14) 15.47", "+DI 21.14", "-DI 26.69"],
  macdLabel: ["MACD(12,26,9) 21.508", ", 33.637", ", -12.129"], rsiLabel: "RSI(14) 46.24",
  downArrows: [["m", 157, 38], ["r", 157, 57]],
  tags: [["p", 1430.61, "1430.61", "#f0506a", true], ["p", 1435.00, "1435.00", "#3b5bdb"],
    ["p", 1382.74, "1382.74", "#2e8b2e", true], ["p", 1381.94, "1381.94", "#111"],
    ["a", 26.69, "26.69", "#c0306a"], ["a", 21.14, "21.14", "#2e8b57"], ["a", 15.47, "15.47", "#111"],
    ["m", 33.637, "33.637", "#ff4d4d"], ["m", 21.508, "21.508", "#111"], ["m", -12.129, "-12.129", "#4aa3e0"],
    ["r", 46.24, "46.24", "#111"]]
});

// hand-drawn pointer lines on the small-cap chart
if (sml.fibBox) {
  var fb = sml.fibBox;
  svg.append("line").attr("x1", fb.x).attr("y1", fb.y + fb.h / 2).attr("x2", 159).attr("y2", 673)
    .attr("stroke", "#3f6fc0").attr("stroke-width", 0.9).attr("marker-end", "url(#ah)");
  svg.append("line").attr("x1", 707).attr("y1", 627).attr("x2", fb.x + fb.w + 4).attr("y2", fb.y + 2)
    .attr("stroke", "#3f6fc0").attr("stroke-width", 0.9).attr("marker-end", "url(#ah)");
}
</script>
</body>
</html>
